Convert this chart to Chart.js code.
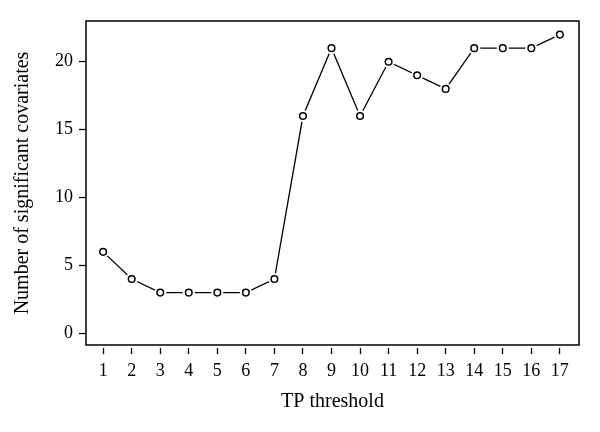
<!DOCTYPE html>
<html>
<head>
<meta charset="utf-8">
<script src="https://cdn.jsdelivr.net/npm/chart.js@4/dist/chart.umd.min.js"></script>
<style>
  html, body { margin: 0; padding: 0; background: #fff; }
  #wrap { width: 600px; height: 432px; }
</style>
</head>
<body>
<div id="wrap"><canvas id="chart"></canvas></div>
<script>
const thresholds = [1, 2, 3, 4, 5, 6, 7, 8, 9, 10, 11, 12, 13, 14, 15, 16, 17];
const covariates = [6, 4, 3, 3, 3, 3, 4, 16, 21, 16, 20, 19, 18, 21, 21, 21, 22];
const yTicks = [0, 5, 10, 15, 20];

const FAMILY = '"Liberation Serif", "DejaVu Serif", serif';
const TICK_FONT = { family: FAMILY, size: 18 };
const TITLE_FONT = { family: FAMILY, size: 20 };
const points = thresholds.map((t, i) => ({ x: t, y: covariates[i] }));

// box round the plot area, like R's box()
const boxPlugin = {
    id: 'box',
    afterDraw(chart) {
        const { ctx, chartArea: a } = chart;
        ctx.save();
        ctx.strokeStyle = '#000';
        ctx.lineWidth = 1.5;
        ctx.strokeRect(a.left, a.top, a.right - a.left, a.bottom - a.top);
        ctx.restore();
    }
};

new Chart(document.getElementById('chart'), {
    type: 'line',
    data: {
        datasets: [
            {
                data: points,
                borderColor: '#000',
                borderWidth: 1.3,
                pointRadius: 0,
                tension: 0,
                order: 3
            },
            {
                // white halo so the line stops short of each point
                data: points,
                showLine: false,
                pointRadius: 6,
                pointBackgroundColor: '#fff',
                pointBorderWidth: 0,
                order: 2
            },
            {
                data: points,
                showLine: false,
                pointRadius: 3.3,
                pointBackgroundColor: '#fff',
                pointBorderColor: '#000',
                pointBorderWidth: 1.5,
                order: 1
            }
        ]
    },
    options: {
        responsive: true,
        maintainAspectRatio: false,
        animation: false,
        layout: { padding: { top: 21, right: 21, left: 0, bottom: 0 } },
        plugins: { legend: { display: false }, tooltip: { enabled: false } },
        scales: {
            x: {
                type: 'linear',
                min: 0.4,
                max: 17.67,
                afterBuildTicks: (scale) => { scale.ticks = thresholds.map(v => ({ value: v })); },
                afterFit: (scale) => { scale.height = 87; },
                grid: {
                    drawOnChartArea: false,
                    tickLength: 9,
                    tickColor: '#000',
                    tickWidth: 1.3,
                    tickBorderDash: [0, 3, 6, 100]
                },
                border: { display: false },
                ticks: { color: '#000', font: TICK_FONT, padding: 6, maxRotation: 0, autoSkip: false },
                title: {
                    display: true,
                    text: 'TP threshold',
                    color: '#000',
                    font: TITLE_FONT,
                    padding: { top: 0, bottom: 18 }
                }
            },
            y: {
                type: 'linear',
                min: -0.86,
                max: 23,
                afterBuildTicks: (scale) => { scale.ticks = yTicks.map(v => ({ value: v })); },
                afterFit: (scale) => { scale.width = 86; },
                grid: {
                    drawOnChartArea: false,
                    tickLength: 7,
                    tickColor: '#000',
                    tickWidth: 1.3
                },
                border: { display: false },
                ticks: { color: '#000', font: TICK_FONT, padding: 6 },
                title: {
                    display: true,
                    text: 'Number of significant covariates',
                    color: '#000',
                    font: TITLE_FONT,
                    padding: { top: 11, bottom: 0 }
                }
            }
        }
    },
    plugins: [boxPlugin]
});
</script>
</body>
</html>
